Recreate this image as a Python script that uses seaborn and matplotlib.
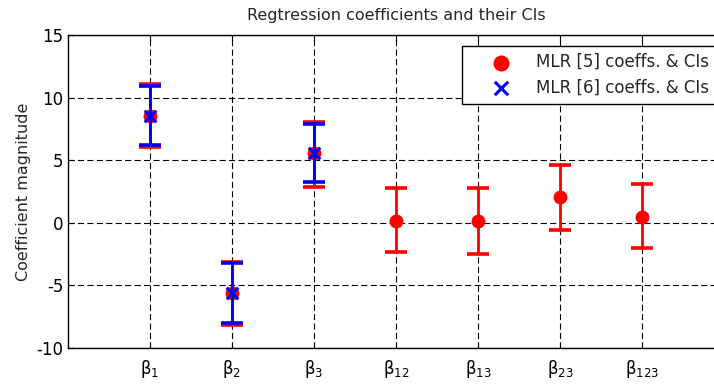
import numpy as np
import pandas as pd
import matplotlib
matplotlib.use("Agg")
import matplotlib.pyplot as plt
import seaborn as sns

categories = ["β$_{1}$", "β$_{2}$", "β$_{3}$", "β$_{12}$", "β$_{13}$", "β$_{23}$", "β$_{123}$"]

# MLR [5] coefficients and CIs (all seven terms)
mlr5_coef = [8.55, -5.6, 5.6, 0.17, 0.14, 2.03, 0.5]
mlr5_low = [6.05, -8.15, 2.88, -2.33, -2.48, -0.6, -2.03]
mlr5_high = [11.1, -3.1, 8.03, 2.75, 2.75, 4.64, 3.07]

# MLR [6] coefficients and CIs (main effects only)
mlr6_coef = [8.55, -5.6, 5.6]
mlr6_low = [6.2, -7.98, 3.25]
mlr6_high = [10.95, -3.25, 7.9]

yticks = [-10, -5, 0, 5, 10, 15]

sns.set_style("ticks")
plt.rcParams["font.family"] = ["DejaVu Sans"]
plt.rcParams["mathtext.fontset"] = "dejavusans"

fig = plt.figure(figsize=(7.14, 3.84), dpi=100)
ax = fig.add_axes([68 / 714, 1 - 348 / 384, 656 / 714, 313 / 384])

x5 = np.arange(1, len(mlr5_coef) + 1)
x6 = np.arange(1, len(mlr6_coef) + 1)
df5 = pd.DataFrame({"x": x5, "coef": mlr5_coef, "lo": mlr5_low, "hi": mlr5_high})
df6 = pd.DataFrame({"x": x6, "coef": mlr6_coef, "lo": mlr6_low, "hi": mlr6_high})

ax.errorbar(df5["x"], df5["coef"],
            yerr=[df5["coef"] - df5["lo"], df5["hi"] - df5["coef"]],
            fmt="none", ecolor="red", elinewidth=2.0, capsize=8, capthick=2.6, zorder=3)
sns.scatterplot(data=df5, x="x", y="coef", ax=ax, color="red", marker="o", s=100,
                edgecolor="red", linewidth=0, zorder=4, label="MLR [5] coeffs. & CIs")
ax.errorbar(df6["x"], df6["coef"],
            yerr=[df6["coef"] - df6["lo"], df6["hi"] - df6["coef"]],
            fmt="none", ecolor="blue", elinewidth=2.0, capsize=8, capthick=2.6, zorder=5)
sns.scatterplot(data=df6, x="x", y="coef", ax=ax, color="blue", marker="x", s=70,
                linewidth=2.2, zorder=6, label="MLR [6] coeffs. & CIs")

ax.set_xlim(0, 8)
ax.set_ylim(-10, 15)
ax.set_xticks(x5)
ax.set_xticklabels(categories, fontsize=12)
ax.set_yticks(yticks)
ax.set_yticklabels([str(t) for t in yticks], fontsize=12)
ax.set_xlabel("")
ax.set_ylabel("Coefficient magnitude", fontsize=11.5)
ax.set_title("Regtression coefficients and their CIs", fontsize=11.5, pad=11)

ax.grid(True, linestyle=(0, (5.5, 3)), color="black", linewidth=0.8)
ax.set_axisbelow(True)
for s in ax.spines.values():
    s.set_visible(True)
    s.set_color("black")
    s.set_linewidth(1.0)
ax.tick_params(direction="in", length=4, top=True, right=True, colors="black", labelcolor="black")
ax.tick_params(axis="x", pad=7)

leg = ax.legend(loc="upper left", bbox_to_anchor=(462 / 714, 1 - 45.5 / 384),
                bbox_transform=fig.transFigure, fontsize=12, frameon=True, fancybox=False,
                edgecolor="black", framealpha=1, borderaxespad=0, handletextpad=0.2,
                handlelength=3.8, borderpad=0.45, labelspacing=0.45, markerscale=1.15)
leg.get_frame().set_linewidth(1.0)

fig.savefig("out.png", dpi=100)
